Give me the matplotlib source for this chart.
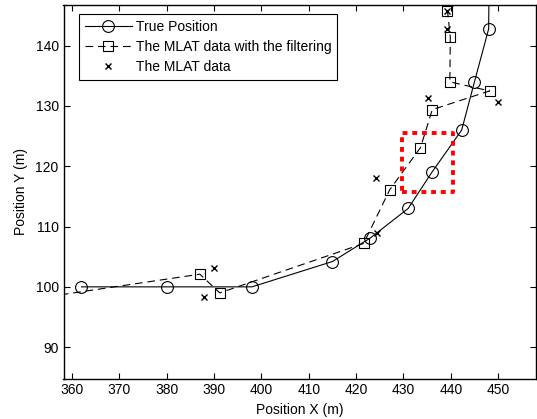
import matplotlib
matplotlib.use("Agg")
import matplotlib.pyplot as plt

# true trajectory (circles)
true_x = [362, 380, 398, 415, 423, 431, 436, 442.3, 445, 448, 448.1]
true_y = [100, 100, 100, 104.2, 108.1, 113.0, 119.0, 126.0, 134.0, 142.8, 152]

# MLAT data after filtering (squares); first and last points lie outside the view
filt_x = [344, 387.0, 391.2, 421.6, 427.1, 433.6, 436.1, 448.2, 439.8, 439.9, 439.3, 443.5]
filt_y = [97.1, 102.1, 99.0, 107.2, 116.1, 123.1, 129.4, 132.5, 134.0, 141.4, 145.8, 148.5]

# raw MLAT data (x markers)
mlat_x = [390.0, 387.9, 424.5, 424.2, 435.1, 450.0, 439.1, 439.3]
mlat_y = [103.1, 98.3, 109.0, 118.0, 131.3, 130.6, 142.7, 145.8]

# highlighted region
box_x = [429.7, 440.4]
box_y = [115.8, 125.5]

plt.rcParams["font.family"] = ["Liberation Sans", "DejaVu Sans"]
plt.rcParams["font.size"] = 10
plt.rcParams["lines.scale_dashes"] = False

W, H = 537, 419
fig = plt.figure(figsize=(W / 100, H / 100), dpi=100)
left, right, top, bottom = 63.5, 536, 5, 378.5
ax = fig.add_axes([left / W, 1 - bottom / H, (right - left) / W, (bottom - top) / H])

ax.plot(true_x, true_y, "-", color="black", lw=0.8, marker="o", ms=8.5,
        mfc="none", mec="black", mew=0.8, label="True Position")
ax.plot(filt_x, filt_y, color="black", lw=0.8, dashes=(5.5, 3.5), marker="s", ms=7,
        mfc="none", mec="black", mew=0.8, label="The MLAT data with the filtering")
ax.plot(mlat_x, mlat_y, ls="none", color="black", marker="x", ms=4, mew=1.0,
        label="The MLAT data")

rx = [box_x[0], box_x[1], box_x[1], box_x[0], box_x[0]]
ry = [box_y[0], box_y[0], box_y[1], box_y[1], box_y[0]]
ax.plot(rx, ry, color="red", lw=2.8, dashes=(3.5, 3.5), solid_capstyle="butt",
        dash_capstyle="butt")

ax.set_xlim(358.2, 458.0)
ax.set_ylim(84.8, 146.75)
ax.set_xticks(range(360, 451, 10))
ax.set_yticks(range(90, 141, 10))
ax.tick_params(direction="in", top=True, right=True, length=4, width=0.8, labelsize=10)
for s in ax.spines.values():
    s.set_linewidth(1.0)

ax.set_xlabel("Position X (m)", fontsize=10, labelpad=4)
ax.set_ylabel("Position Y (m)", fontsize=10, labelpad=5)

leg = ax.legend(loc="upper left", bbox_to_anchor=(0.0328, 0.976), fontsize=10,
                fancybox=False, framealpha=1, edgecolor="black", handlelength=3.4,
                handletextpad=0.25, borderpad=0.42, labelspacing=0.45,
                borderaxespad=0)
leg.get_frame().set_linewidth(0.8)

fig.savefig("out.png", dpi=100)
